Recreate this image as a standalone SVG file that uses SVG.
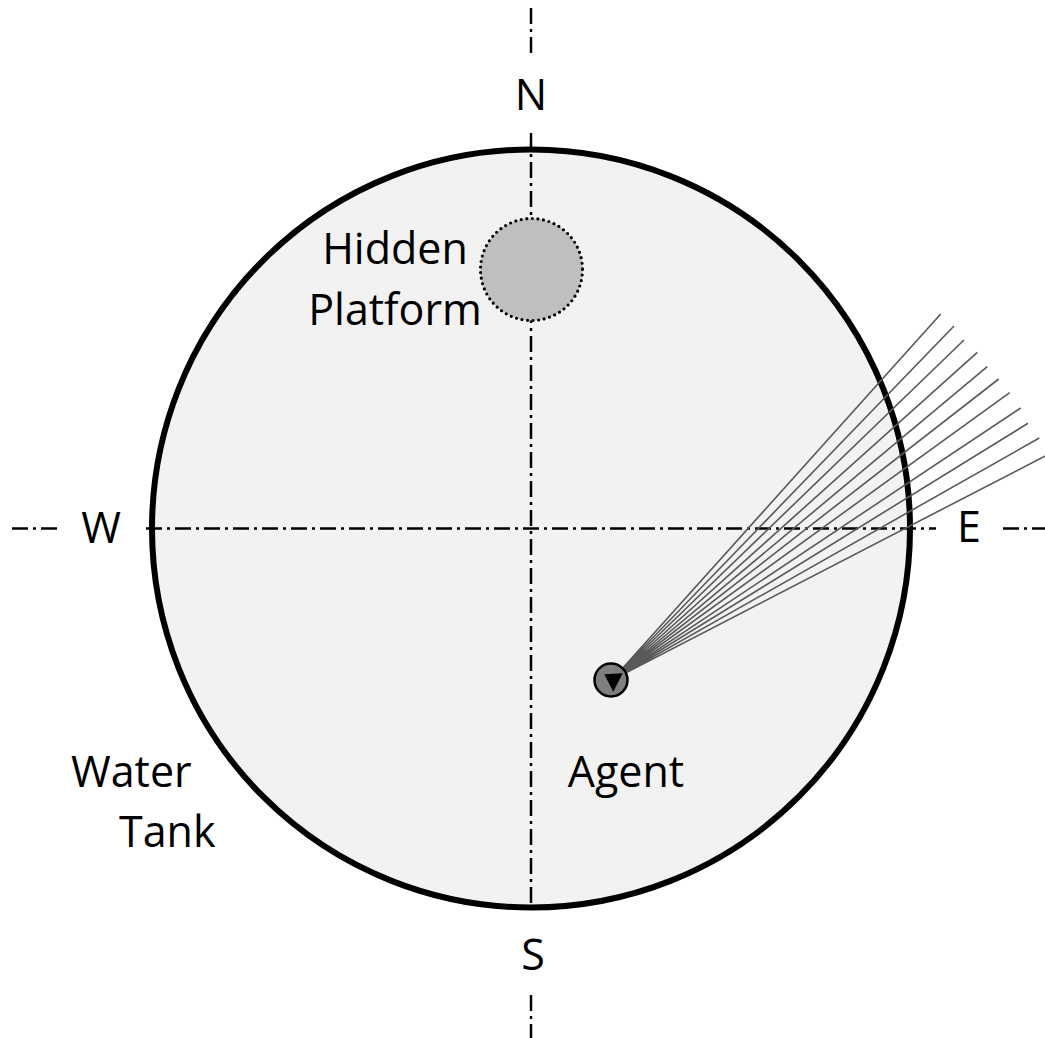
<svg xmlns="http://www.w3.org/2000/svg" width="1045" height="1038" viewBox="0 0 1045 1038">
  <style>
    .lbl { font-family: "Open Sans", "Noto Sans", "Liberation Sans", sans-serif; font-size: 43px; fill: #000; }
    .axis { stroke: #000; stroke-width: 2.5; stroke-dasharray: 16 5 3 5; fill: none; }
    .ray { stroke: #595959; stroke-width: 1.6; fill: none; }
  </style>
  <rect width="1045" height="1038" fill="#fff"/>
  <g id="tank">
    <circle cx="531" cy="528.5" r="379" fill="#f2f2f2" stroke="#000" stroke-width="6"/>
  </g>
  <g id="axes">
    <path class="axis" d="M531 8V56 M531 133V910 M531 995V1038"/>
    <path class="axis" d="M12 528.5H60 M146 528.5H936 M1003 528.5H1045"/>
  </g>
  <g id="platform">
    <circle cx="531.5" cy="269.5" r="51" fill="#bfbfbf" stroke="#000" stroke-width="3.2" stroke-dasharray="0 5.6" stroke-linecap="round"/>
  </g>
  <g id="connectors">
    <path class="ray" d="M612 680L940.7 314 M612 680L954 326 M612 680L964 340 M612 680L977.3 352.3 M612 680L987.3 366.7 M612 680L998.7 379 M612 680L1009.7 392.7 M612 680L1020.7 408 M612 680L1028 423.3 M612 680L1039.3 438 M612 680L1049 454"/>
  </g>
  <g id="agent">
    <circle cx="611" cy="680" r="16.5" fill="#7f7f7f" stroke="#000" stroke-width="2.5"/>
    <polygon points="604.3,674.3 622.7,673.3 613.3,691.7" fill="#000"/>
  </g>
  <g id="labels">
    <text class="lbl" x="531" y="110" text-anchor="middle">N</text>
    <text class="lbl" x="533" y="970" text-anchor="middle">S</text>
    <text class="lbl" x="101" y="543" text-anchor="middle">W</text>
    <text class="lbl" x="969" y="542" text-anchor="middle">E</text>
    <text class="lbl" x="395" y="264" text-anchor="middle">Hidden</text>
    <text class="lbl" x="395" y="325" text-anchor="middle">Platform</text>
    <text class="lbl" x="71" y="787">Water</text>
    <text class="lbl" x="119" y="847">Tank</text>
    <text class="lbl" x="626" y="787" text-anchor="middle">Agent</text>
  </g>
</svg>
